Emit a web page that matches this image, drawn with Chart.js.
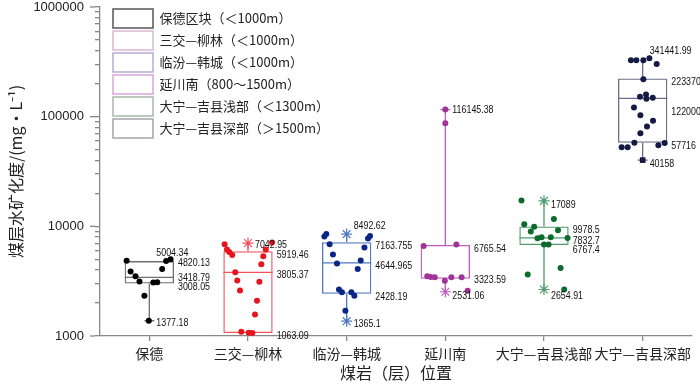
<!DOCTYPE html>
<html><head><meta charset="utf-8">
<script src="https://cdn.jsdelivr.net/npm/chart.js@4.4.1/dist/chart.umd.min.js"></script>
<style>html,body{margin:0;padding:0;background:#fff}#wrap{width:700px;height:386px;position:relative}</style>
</head><body><div id="wrap"><canvas id="c"></canvas></div>
<script>
// ---- data ----
const categories = ['保德','三交—柳林','临汾—韩城','延川南','大宁—吉县浅部','大宁—吉县深部'];
const legendNames = ['保德区块（＜1000m）','三交—柳林（＜1000m）','临汾—韩城（＜1000m）','延川南（800～1500m）','大宁—吉县浅部（＜1300m）','大宁—吉县深部（＞1500m）'];
const yTickValues = [1000, 10000, 100000, 1000000];
const yTickLabels = ['1000', '10000', '100000', '1000000'];

const q1 = [3008.05, 1063.09, 2428.19, 3323.59, 6767.4, 57716];
const median = [3418.79, 3805.37, 4644.965, null, 7832.7, 147000];
const q3 = [4820.13, 5919.46, 7163.755, 6765.54, 9978.5, 223370];
const whiskerLow = [1377.18, 1063.09, 1365.1, 2531.06, 2654.91, 40158];
const whiskerHigh = [4820.13, 7042.95, 8492.62, 116145.38, 17089, 326500];
const capValues = [[1377.18], [], [], [116145.38], [], [40158]];
const starValues = [[], [7042.95], [8492.62, 1365.1], [2531.06], [17089, 2654.91], []];
const squareValues = [[], [], [], [], [], [40158]];

const baodeValues = [4850, 4820, 5004.34, 3875, 4090, 3510, 3142, 3077, 3090, 2324, 1377.18];
const sanjiaoValues = [6860, 6140, 5837, 5486, 7110, 6140, 5337, 4514, 3818, 3208, 3117, 2602, 2094, 1574, 1094, 1070, 1063.09];
const linhanValues = [8060, 8510, 7730, 8160, 6860, 6400, 5530, 4876, 4580, 4090, 2658, 2512, 2512, 2324, 1698];
const yanchuanValues = [6600, 6820, 3500, 3460, 3440, 3440, 3440, 3184, 2582, 86900, 116145.38];
const shallowValues = [17200, 11650, 10420, 9930, 8950, 9200, 7780, 7940, 7940, 7830, 6820, 6820, 4180, 3640, 2660];
const deepValues = [326500, 326500, 326500, 341441.99, 302000, 219800, 159200, 151700, 145500, 148700, 121000, 102800, 91800, 81400, 70700, 52700, 52700, 57700, 55000, 57400];

// horizontal jitter of the dots (category units), layout only
const baodeJitter = [-0.23, 0.17, 0.215, -0.19, 0.13, -0.14, -0.10, 0.04, 0.08, -0.05, -0.005];
const sanjiaoJitter = [-0.237, -0.213, -0.19, -0.16, 0.244, 0.18, 0.155, 0.135, -0.129, -0.109, 0.115, -0.081, 0.091, 0.071, -0.068, 0.007, 0.044];
const linhanJitter = [-0.226, -0.206, 0.216, 0.237, -0.173, 0.18, -0.139, 0.142, -0.098, 0.112, -0.078, -0.048, 0.048, 0.078, -0.013];
const yanchuanJitter = [-0.22, 0.112, -0.183, -0.147, -0.107, 0.061, 0.165, -0.005, 0.226, 0, 0];
const shallowJitter = [-0.228, 0.1, -0.2, -0.1, -0.134, 0.142, -0.066, -0.025, 0.069, 0.239, 0, 0.046, 0.168, -0.165, 0.205];
const deepJitter = [-0.119, -0.064, 0.007, 0.068, 0.142, 0.007, 0.034, -0.027, 0.038, 0.102, -0.088, -0.023, 0.105, 0.044, -0.023, -0.213, -0.152, -0.084, 0.159, 0.223];

const labelTexts = [
  ['5004.34','4820.13','3418.79','3008.05','1377.18'],
  ['7042.95','5919.46','3805.37','1063.09'],
  ['8492.62','7163.755','4644.965','2428.19','1365.1'],
  ['116145.38','6765.54','3323.59','2531.06'],
  ['17089','9978.5','7832.7','6767.4','2654.91'],
  ['341441.99','223370','122000','57716','40158']
];
const labelAt = [
  [5715, 4613, 3388, 2806, 1332],
  [6820, 5531, 3590, 1000],
  [10060, 6620, 4330, 2276, 1294],
  [116400, 6270, 3229, 2310],
  [15850, 9210, 7346, 6048, 2310],
  [397000, 209500, 111800, 53800, 36800]
];
const labelSide = [
  ['w','b','b','b','w'],
  ['w','b','b','b'],
  ['w','b','b','b','w'],
  ['w','b','b','w'],
  ['w','b','b','b','w'],
  ['w','b','b','b','w']
];

// ---- styles ----
const pointColors = ['#000000','#e8141e','#0b2585','#a03398','#0b6a2c','#141a44'];
const boxColors = ['#707070','#f0535c','#5078c4','#c05cc0','#4f9a6c','#6c6c8a'];
const legendBorder = ['#555555','#dcb6d4','#b4acd8','#d8a8dc','#a8b8a8','#a4a4aa'];
const numFont = '"Liberation Sans", sans-serif';
const cjkFont = '"Noto Sans CJK SC", "Liberation Sans", sans-serif';

const allValues = [baodeValues, sanjiaoValues, linhanValues, yanchuanValues, shallowValues, deepValues];
const allJitter = [baodeJitter, sanjiaoJitter, linhanJitter, yanchuanJitter, shallowJitter, deepJitter];

const datasets = [];
categories.forEach((c, i) => {
  datasets.push({
    type: 'bar', label: legendNames[i],
    data: [{x: i, y: [q1[i], q3[i]]}],
    backgroundColor: 'rgba(255,255,255,0)', borderColor: boxColors[i], borderWidth: 1.3,
    borderSkipped: false, grouped: false, barPercentage: 0.5, categoryPercentage: 1, order: 3
  });
});
categories.forEach((c, i) => {
  const seg = [];
  if (whiskerLow[i] < q1[i]) seg.push({x: i, y: whiskerLow[i]}, {x: i, y: q1[i]}, {x: i, y: null});
  if (whiskerHigh[i] > q3[i]) seg.push({x: i, y: q3[i]}, {x: i, y: whiskerHigh[i]}, {x: i, y: null});
  if (median[i] !== null) seg.push({x: i - 0.25, y: median[i]}, {x: i + 0.25, y: median[i]}, {x: i, y: null});
  capValues[i].forEach(v => seg.push({x: i - 0.05, y: v}, {x: i + 0.05, y: v}, {x: i, y: null}));
  datasets.push({
    type: 'line', label: 'w' + i, data: seg, borderColor: boxColors[i], borderWidth: 1.3,
    pointRadius: 0, spanGaps: false, fill: false, order: 2
  });
  datasets.push({
    type: 'scatter', label: 's' + i,
    data: starValues[i].map(v => ({x: i, y: v})),
    pointStyle: 'star', pointRadius: 5.5, borderColor: boxColors[i], borderWidth: 1.2,
    backgroundColor: boxColors[i], order: 1
  });
  datasets.push({
    type: 'scatter', label: 'q' + i,
    data: squareValues[i].map(v => ({x: i, y: v})),
    pointStyle: 'rect', pointRadius: 4, borderWidth: 0,
    backgroundColor: pointColors[i], order: 1
  });
  datasets.push({
    type: 'scatter', label: 'p' + i,
    data: allValues[i].map((v, k) => ({x: i + allJitter[i][k], y: v})),
    pointRadius: 3, borderWidth: 0, backgroundColor: pointColors[i], order: 0
  });
});

const labelPlugin = {
  id: 'valueLabels',
  afterLayout(chart) {
    if (chart.legend) { chart.legend.left += 10; chart.legend.top += 6; }
  },
  afterDatasetsDraw(chart) {
    const ctx = chart.ctx, xs = chart.scales.x, ys = chart.scales.y;
    categories.forEach((c, i) => {
      const bar = chart.getDatasetMeta(i).data[0];
      const half = bar ? bar.width / 2 : 24;
      const cx = xs.getPixelForValue(i);
      labelTexts[i].forEach((t, k) => {
        const x = cx + (labelSide[i][k] === 'b' ? half + 4 : 7);
        ctx.save();
        ctx.font = '11.5px ' + numFont;
        ctx.fillStyle = '#111';
        ctx.textAlign = 'left';
        ctx.textBaseline = 'middle';
        ctx.translate(x, ys.getPixelForValue(labelAt[i][k]));
        ctx.scale(0.77, 1);
        ctx.fillText(t, 0, 0);
        ctx.restore();
      });
    });
  },
  afterDraw(chart) {
    const ctx = chart.ctx, ys = chart.scales.y;
    ctx.save();
    ctx.strokeStyle = '#888';
    ctx.lineWidth = 1.3;
    yTickValues.forEach(v => {
      const y = ys.getPixelForValue(v);
      ctx.beginPath();
      ctx.moveTo(ys.right - 10, y);
      ctx.lineTo(ys.right - 5, y);
      ctx.stroke();
    });
    ctx.restore();
  }
};

new Chart(document.getElementById('c'), {
  data: {datasets},
  plugins: [labelPlugin],
  options: {
    responsive: true, maintainAspectRatio: false, animation: false,
    layout: {padding: {top: 7, right: 8, left: 0, bottom: 0}},
    plugins: {
      tooltip: {enabled: false},
      legend: {
        position: 'chartArea', align: 'start',
        labels: {
          boxWidth: 40, boxHeight: 19, padding: 3,
          color: '#222', font: {family: cjkFont, size: 13},
          generateLabels(chart) {
            const items = Chart.defaults.plugins.legend.labels.generateLabels(chart);
            return items.filter(it => it.datasetIndex < categories.length).map(it => Object.assign(it, {
              strokeStyle: legendBorder[it.datasetIndex], fillStyle: '#ffffff', lineWidth: 1.5
            }));
          }
        }
      }
    },
    scales: {
      x: {
        type: 'linear', min: -0.5, max: 5.5, offset: false,
        afterBuildTicks: s => { s.ticks = categories.map((c, i) => ({value: i})); },
        afterFit: s => { s.height = 50; s.paddingLeft = 0; s.paddingRight = 0; },
        ticks: {
          autoSkip: false, maxRotation: 0, padding: 4, color: '#222',
          font: {family: cjkFont, size: 14},
          callback: v => categories[v] !== undefined ? categories[v] : ''
        },
        grid: {display: true, offset: false, drawOnChartArea: false, drawTicks: true, tickLength: 5, color: '#888', lineWidth: 1.3},
        border: {display: true, color: '#888', width: 1.3},
        title: {display: true, text: '煤岩（层）位置', color: '#222', font: {family: cjkFont, size: 16}, padding: {top: 0, bottom: 3}}
      },
      y: {
        type: 'logarithmic', min: 1000, max: 1000000,
        afterBuildTicks: s => {
          const t = [];
          for (let e = 3; e <= 6; e++) for (let m = 1; m <= 9; m++) { const v = m * Math.pow(10, e); if (v <= 1000000) t.push({value: v}); }
          s.ticks = t;
        },
        afterFit: s => { s.width = 100; s.paddingTop = 0; s.paddingBottom = 0; },
        ticks: {
          autoSkip: false, padding: 11, color: '#222',
          font: {family: '"Liberation Sans", sans-serif', size: 13},
          callback: v => { const k = yTickValues.indexOf(v); return k >= 0 ? yTickLabels[k] : ''; }
        },
        grid: {display: true, drawOnChartArea: false, drawTicks: true, tickLength: 5, color: '#888', lineWidth: 1.3},
        border: {display: true, color: '#888', width: 1.3},
        title: {display: true, text: '煤层水矿化度/(mg・L⁻¹)', color: '#222', font: {family: cjkFont, size: 16}, padding: {top: 6, bottom: 0}}
      }
    }
  }
});
</script></body></html>
